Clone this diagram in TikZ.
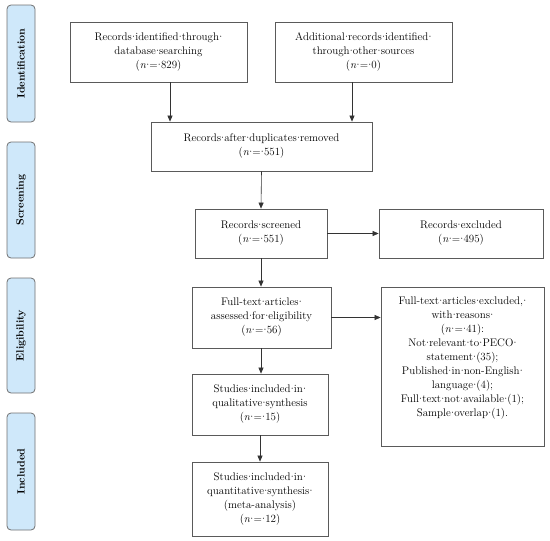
\documentclass[tikz,border=0pt]{standalone}
\usetikzlibrary{arrows.meta}
\definecolor{sidefill}{HTML}{CFE8FA}
\definecolor{sideline}{HTML}{707070}
\definecolor{boxline}{HTML}{5A5A5A}
\catcode`\·=13
\def·{\makebox[0.3em]{\char"B7}}
\tikzset{
  side/.style={draw=sideline, fill=sidefill, rounded corners=4pt, line width=0.8pt, inner sep=0pt, rotate=90, font=\bfseries\fontsize{10.5}{12}\selectfont},
  flowbox/.style={draw=boxline, line width=0.8pt, inner sep=0pt, align=center, font=\fontsize{11}{14}\selectfont},
  arr/.style={-{Triangle[length=6pt,width=5pt]}, line width=0.6pt, draw=black!80}
}
\begin{document}
\begin{tikzpicture}[x=1pt,y=-1pt]
\useasboundingbox (0,0) rectangle (550,541);
% side labels
\node[side, minimum width=117pt, minimum height=28pt] (s1) at (21,63.5) {Identification};
\node[side, minimum width=116pt, minimum height=28pt] (s2) at (21,200) {Screening};
\node[side, minimum width=115pt, minimum height=28pt] (s3) at (21,335.5) {Eligibility};
\node[side, minimum width=117pt, minimum height=28pt] (s4) at (21,471.5) {Included};
% boxes
\node[flowbox, minimum width=177pt, minimum height=60pt] (b1) at (158.5,52) {Records·identified·through·\\database·searching\\(\textit{n}·=·829)};
\node[flowbox, minimum width=177pt, minimum height=60pt] (b2) at (363.5,52) {Additional·records·identified·\\through·other·sources\\(\textit{n}·=·0)};
\node[flowbox, minimum width=221pt, minimum height=49pt] (b3) at (261.5,146.5) {Records·after·duplicates·removed\\(\textit{n}·=·551)};
\node[flowbox, minimum width=132pt, minimum height=49pt] (b4) at (261,233.5) {Records·screened\\(\textit{n}·=·551)};
\node[flowbox, minimum width=164pt, minimum height=49pt] (b5) at (461,233.5) {Records·excluded\\(\textit{n}·=·495)};
\node[flowbox, minimum width=139pt, minimum height=61pt] (b6) at (261.5,317.5) {Full-text·articles·\\assessed·for·eligibility\\(\textit{n}·=·56)};
\node[flowbox, minimum width=163pt, minimum height=159pt] (b7) at (462.5,366.5) {Full-text·articles·excluded,·\\with·reasons·\\(\textit{n}·=·41):\\Not·relevant·to·PECO·\\statement·(35);\\Published·in·non-English·\\language·(4);\\Full·text·not·available·(1);\\Sample·overlap·(1).\\[6pt]};
\node[flowbox, minimum width=136pt, minimum height=61pt] (b8) at (260,404.5) {Studies·included·in·\\qualitative·synthesis\\(\textit{n}·=·15)};
\node[flowbox, minimum width=136pt, minimum height=74pt] (b9) at (260,499) {Studies·included·in·\\quantitative·synthesis·\\(meta-analysis)\\(\textit{n}·=·12)};
% arrows
\coordinate (x1) at (170,0);
\coordinate (x2) at (352,0);
\draw[arr] (x1 |- b1.south) -- (x1 |- b3.north);
\draw[arr] (x2 |- b2.south) -- (x2 |- b3.north);
\draw[arr] (b3.south) -- (b4.north);
\draw[arr] (b4.east) -- (b5.west);
\draw[arr] (b4.south) -- (b4.south |- b6.north);
\draw[arr] (b6.east) -- (b6.east -| b7.west);
\draw[arr] (b6.south -| b4.south) -- (b4.south |- b8.north);
\draw[arr] (b8.south) -- (b9.north);
\end{tikzpicture}
\end{document}
